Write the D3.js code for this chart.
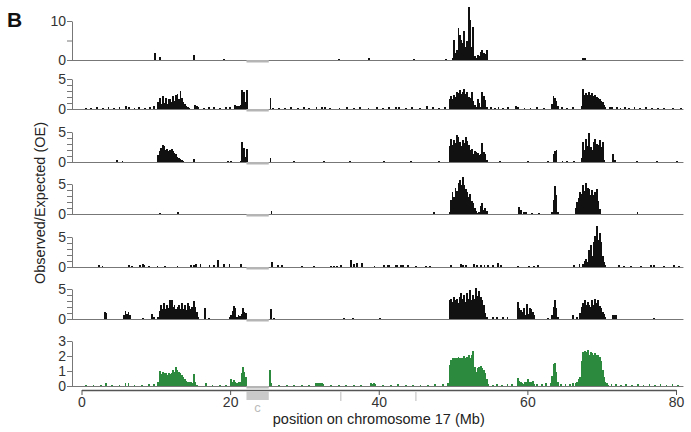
<!DOCTYPE html>
<html>
<head>
<meta charset="utf-8">
<script src="https://cdn.jsdelivr.net/npm/d3@7"></script>
<style>
  body { margin: 0; background: #fff; }
  svg text { font-family: "Liberation Sans", Arial, Helvetica, sans-serif; }
  .bar { shape-rendering: crispEdges; }
</style>
</head>
<body>
<div id="chart"></div>
<script>
// bin width of the histogram blocks (Mb)
const binMb = 0.2;
const xTicks = [0, 20, 40, 60, 80];
const gapMb = [22.2, 25.2];      // unmapped region, grey box labelled "c"
const markMb = [34.9, 45.0];     // small grey marks under the axis
const chromEnd = 81;

// each block: [start Mb, values every binMb]; spikes: [Mb, value]
const t1Blocks = [
  [49.8, [0.5,5.1,1.7,2.5,8.1,6.4,5.1,4.3,7.5,3.4,5.0,13.5,10.3,3.4,8.4,1.0,0.4,1.3,1.0,2.1,2.6,1.7,1.5,2.6]]
];
const t1Spikes = [[9.8,1.9],[10.4,0.7],[15.0,1.3],[19.1,0.3],[34.5,0.2],[38.6,0.6],[44.6,0.2],[48.9,0.3],[67.4,0.6],[67.6,0.6]];

const t2Blocks = [
  [10.2, [1.2,1.9,0.8,2.1,1.0,1.8,0.9,1.6,1.7,1.1,2.1,1.4,2.3,2.5,1.6,3.0,1.8,1.2,0.9,0.55,0.3,0.2]],
  [21.1, [0.5,0.6,3.1,2.9,1.2,3.2]],
  [49.4, [1.6,2.1,1.6,2.4,2.0,2.8,2.6,3.1,2.5,2.9,3.3,2.5,2.9,2.0,1.8,2.9,1.3,0.7,0.3,1.7,1.0,0.3,2.8,2.1,1.5,0.3]],
  [63.2, [0.8,2.1,1.9,1.3,0.5]],
  [67.2, [0.5,3.4,2.4,2.7,2.3,2.8,2.4,2.6,2.1,2.3,2.0,1.9,1.6,1.4,1.2,0.6,0.3]]
];
const t2Spikes = [[0.5,0.2],[1.2,0.2],[2.0,0.3],[2.8,0.2],[3.5,0.3],[4.2,0.2],[5.0,0.3],[5.9,0.5],[6.3,0.3],[7.0,0.2],[7.6,0.3],[8.4,0.2],[9.1,0.3],[9.6,0.5],
  [15.2,0.7],[15.4,0.55],[15.6,0.4],[16.4,0.2],[17.0,0.3],[17.7,0.3],[18.5,0.2],[19.3,0.4],[19.9,0.4],[20.5,0.65],[20.8,0.5],[25.3,1.9],[25.6,0.2],
  [26.4,0.2],[27.3,0.2],[28.1,0.3],[29.0,0.2],[29.8,0.3],[30.5,0.2],[31.5,0.4],[32.2,0.3],[32.6,0.3],[33.3,0.2],[34.6,0.2],[35.6,0.3],[36.5,0.2],
  [37.4,0.3],[38.5,0.2],[39.6,0.3],[40.5,0.2],[41.3,0.3],[42.2,0.4],[42.6,0.3],[43.5,0.2],[44.4,0.3],[45.4,0.2],[46.4,0.5],[47.2,0.3],[48.0,0.2],[48.8,0.4],
  [55.0,0.3],[55.5,0.2],[56.0,0.3],[56.6,0.2],[57.3,0.3],[58.3,0.55],[58.6,0.3],[59.5,0.2],[60.3,0.2],[61.2,0.3],[62.1,0.2],[64.5,0.3],[65.2,0.2],[66.0,0.3],
  [71.0,0.4],[71.3,0.3],[71.9,0.3],[72.4,0.2],[73.0,0.3],[73.6,0.2],[74.3,0.4],[75.0,0.2],[75.8,0.3],[76.7,0.2],[77.5,0.2],[78.3,0.2],[79.5,0.2],[80.5,0.2]];

const t3Blocks = [
  [10.2, [1.1,1.9,2.4,2.8,2.6,2.0,2.2,1.9,2.0,2.2,1.9,1.5,1.4,0.8,0.7,0.55,0.4,0.1]],
  [21.3, [0.2,3.4,2.4,0.8,2.2]],
  [49.4, [2.6,3.9,2.8,3.6,3.1,4.5,4.2,3.4,2.7,3.7,3.1,4.2,3.5,2.8,2.0,2.1,1.4,1.8,1.7,1.5,1.2,1.4,3.1,1.7,1.4,0.4]],
  [63.4, [1.4,1.9,2.0]],
  [67.2, [0.6,3.4,2.0,3.9,2.6,4.9,2.5,2.0,3.4,3.8,3.0,2.8,3.6,2.5,3.4,0.4]]
];
const t3Spikes = [[4.7,0.3],[5.4,0.2],[15.0,0.55],[19.6,0.2],[20.0,0.2],[25.3,0.7],[28.5,0.15],[32.5,0.15],[36.0,0.15],[40.6,0.2],[44.2,0.15],[48.0,0.15],
  [56.2,0.15],[60.0,0.2],[62.6,0.2],[64.6,0.2],[65.2,0.2],[66.2,0.2],[71.4,1.4],[71.7,0.3],[74.6,0.2],[77.3,0.2],[80.0,0.2]];

const t4Blocks = [
  [49.4, [0.3,2.3,3.7,2.8,4.3,3.8,5.1,5.7,4.9,6.1,4.8,4.2,3.7,2.9,3.4,2.2,1.8,1.0,0.5,0.2,0.3,1.3,1.8,0.7,1.0,0.5]],
  [58.8, [1.1,0.6]],
  [63.2, [0.3,2.3,4.6,3.2,0.3]],
  [66.4, [1.0,2.0,2.6,3.7,3.4,4.8,3.9,5.1,4.4,4.2,3.1,4.0,3.2,3.6,4.1,2.2,0.8]]
];
const t4Spikes = [[10.4,0.2],[12.9,0.3],[25.45,0.5],[47.3,0.3],[59.4,0.4],[59.7,0.3],[60.5,0.2],[61.4,0.2],[74.7,0.3]];

const t5Blocks = [
  [67.4, [0.5,1.0,1.4,0.9,2.8,3.7,1.8,4.2,5.1,6.8,4.5,5.6,4.2,1.8,0.9,0.4]]
];
const t5Spikes = [[2.2,0.4],[2.7,0.2],[6.3,0.3],[6.7,0.2],[7.8,0.4],[8.1,0.5],[8.3,0.3],[9.0,0.2],[10.1,0.2],[11.1,0.2],[12.8,0.2],[14.6,0.4],[15.0,0.3],
  [15.3,0.5],[15.9,0.5],[17.1,0.3],[17.7,0.4],[18.2,1.1],[19.1,0.5],[19.8,0.5],[21.3,0.5],[25.5,0.8],[26.3,0.3],[26.9,0.3],[29.6,0.15],[31.2,0.15],
  [33.4,0.2],[33.9,0.2],[34.3,0.25],[34.8,0.3],[36.1,1.2],[36.5,0.5],[37.0,0.6],[37.6,0.6],[39.3,0.2],[40.6,0.3],[41.1,0.4],[41.3,0.3],[42.2,0.4],
  [42.4,0.3],[42.9,0.4],[43.1,0.3],[43.8,0.4],[44.9,0.2],[46.2,0.2],[46.8,0.2],[49.6,0.3],[50.9,0.5],[51.2,0.4],[51.6,0.4],[52.7,0.5],[53.1,0.4],
  [53.6,0.4],[54.1,0.3],[54.6,0.3],[55.2,0.3],[55.9,0.6],[56.3,0.3],[58.6,0.2],[60.1,0.2],[60.8,0.2],[61.3,0.3],[66.2,0.3],[66.9,0.5],[72.2,0.3],
  [72.9,0.2],[73.8,0.2],[75.2,0.2],[76.5,0.4],[76.9,0.4],[78.3,0.2],[79.6,0.3],[80.3,0.2]];

const t6Blocks = [
  [3.0, [1.2,1.0]],
  [5.6, [0.6,1.3,0.9,1.1,0.6]],
  [9.4, [0.9,0.4]],
  [10.2, [0.3,1.4,2.3,1.6,2.6,1.7,2.4,1.8,3.2,3.1,2.0,2.4,1.7,2.0,2.3,1.7,2.7,1.7,2.3,1.5,2.6,2.1,1.6,2.0,3.0,2.0,1.2,0.3]],
  [19.8, [0.3,0.6,1.3,2.1,1.8,0.4,0.6,0.5,0.8,1.9,1.2,1.0]],
  [49.4, [3.2,3.4,2.9,3.7,3.2,3.4,2.6,3.6,4.3,3.3,4.0,2.9,4.3,3.4,4.8,3.2,4.0,3.4,5.1,3.8,4.6,3.7,3.2,2.4,1.0,0.3]],
  [58.6, [2.8,1.9,1.5,1.1,1.8,0.6,2.5,0.9,1.8,1.6,1.2,0.6]],
  [63.2, [0.6,2.0,3.2,1.8,0.4]],
  [67.0, [1.0,2.0,2.6,3.2,2.3,2.8,2.4,2.0,3.2,2.3,3.3,2.6,3.1,2.2,1.8,1.2,0.8,0.3]],
  [71.4, [0.6,0.7,0.6]]
];
const t6Spikes = [[8.2,0.2],[16.5,1.9],[17.0,0.2],[25.4,1.7],[25.8,0.2],[35.2,0.1],[36.4,0.1],[40.0,0.1],[55.2,0.3],[55.8,0.3],[56.6,0.3],[57.2,0.3],
  [62.6,0.2],[66.0,0.7],[66.6,0.3],[76.9,0.2]];

const t7Blocks = [
  [10.2, [0.3,1.0,0.8,0.95,0.85,0.9,0.75,0.85,0.8,0.9,1.05,0.95,1.3,1.1,0.95,0.85,0.75,0.6,0.45,0.35,0.3,0.25,0.3,0.2,0.8,0.3,0.1]],
  [20.0, [0.5,0.25,0.4,0.3,0.2,0.3,0.3,0.85,1.3,0.95,0.6]],
  [25.2, [1.07,0.2]],
  [31.4, [0.2,0.22,0.22,0.22,0.2,0.15]],
  [38.8, [0.18,0.15,0.18,0.12]],
  [49.2, [0.2,1.4,1.75,1.9,1.85,1.9,1.85,1.95,1.85,1.9,1.85,2.0,1.85,1.95,2.05,1.9,2.1,2.35,1.3,0.95,1.2,1.3,1.35,1.2,1.05,0.85,0.5,0.15]],
  [58.6, [0.55,0.35,0.25,0.2,0.15,0.25,0.3,0.5,0.25,0.3,0.35,0.15]],
  [63.0, [0.2,0.7,1.5,1.55,0.95,0.3]],
  [66.4, [0.2,0.3,0.45,0.6,1.7,2.3,2.35,2.25,2.4,2.1,2.25,2.2,2.1,2.2,2.1,2.05,1.95,1.7,1.1,0.6,0.3,0.2,0.1]]
];
const t7Spikes = [[0.5,0.08],[1.5,0.1],[2.5,0.08],[3.2,0.18],[4.0,0.08],[5.0,0.1],[5.8,0.2],[6.2,0.22],[7.0,0.1],[8.0,0.08],[9.0,0.12],[9.6,0.15],
  [16.6,0.2],[17.5,0.1],[18.5,0.08],[19.3,0.1],[26.5,0.1],[27.5,0.08],[28.5,0.1],[29.5,0.08],[30.5,0.1],[33.5,0.08],[34.5,0.1],[35.5,0.08],
  [36.5,0.1],[37.5,0.08],[40.5,0.1],[41.5,0.08],[42.5,0.12],[43.5,0.08],[44.5,0.1],[45.5,0.08],[46.5,0.1],[47.5,0.12],[48.5,0.15],[55.2,0.1],
  [55.8,0.12],[56.5,0.1],[57.2,0.12],[57.8,0.15],[61.2,0.12],[61.8,0.15],[62.4,0.2],[64.4,0.15],[65.0,0.12],[65.6,0.15],[66.0,0.2],[71.2,0.15],
  [71.8,0.15],[72.5,0.1],[73.2,0.12],[74.0,0.1],[74.8,0.12],[75.5,0.1],[76.3,0.12],[77.0,0.1],[77.8,0.12],[78.6,0.1],[79.4,0.12],[80.2,0.1]];

// y axis ticks per track
const ticks10 = [0, 5, 10], ticks5 = [0, 1, 2, 3, 4, 5], ticks3 = [0, 1, 2, 3];

const width = 691, height = 432;
const axisX = 72;

const svg = d3.select("#chart").append("svg")
    .attr("width", width)
    .attr("height", height);

const x = d3.scaleLinear().domain([0, 80]).range([81.5, 676]);
// a little overlap so neighbouring bins merge into solid blocks
const barW = x(binMb) - x(0) + 0.35;

// panel layout: baseline y, axis length in px
const panels = [
  {blocks: t1Blocks, spikes: t1Spikes, top: 10, base: 60,  len: 39, ticks: ticks10, labels: [0, 10], color: "#111"},
  {blocks: t2Blocks, spikes: t2Spikes, top: 5,  base: 109, len: 30, ticks: ticks5, labels: [0, 5], color: "#111"},
  {blocks: t3Blocks, spikes: t3Spikes, top: 5,  base: 162, len: 30, ticks: ticks5, labels: [0, 5], color: "#111"},
  {blocks: t4Blocks, spikes: t4Spikes, top: 5,  base: 214, len: 30, ticks: ticks5, labels: [0, 5], color: "#111"},
  {blocks: t5Blocks, spikes: t5Spikes, top: 5,  base: 267, len: 30, ticks: ticks5, labels: [0, 5], color: "#111"},
  {blocks: t6Blocks, spikes: t6Spikes, top: 5,  base: 319, len: 30, ticks: ticks5, labels: [0, 5], color: "#111"},
  {blocks: t7Blocks, spikes: t7Spikes, top: 3,  base: 386, len: 45, ticks: ticks3, labels: ticks3, color: "#2b8a3e"}
];

panels.forEach(function(p) {
  let y = d3.scaleLinear().domain([0, p.top]).range([p.base, p.base - p.len]);
  let g = svg.append("g");

  let pts = [];
  p.blocks.forEach(function(b) {
    b[1].forEach(function(v, j) { pts.push([b[0] + j * binMb, v]); });
  });
  p.spikes.forEach(function(d) { pts.push(d); });

  // baseline
  g.append("line")
      .attr("x1", axisX).attr("x2", x(chromEnd))
      .attr("y1", p.base + 0.5).attr("y2", p.base + 0.5)
      .attr("stroke", "#777")
      .attr("stroke-width", 1.2);

  g.selectAll(".bar")
      .data(pts)
      .enter().append("rect")
      .attr("class", "bar")
      .attr("x", function(d) { return x(d[0]); })
      .attr("width", barW)
      .attr("y", function(d) { return y(d[1]); })
      .attr("height", function(d) { return p.base - y(d[1]); })
      .attr("fill", p.color);

  // unmapped gap
  g.append("rect")
      .attr("x", x(gapMb[0]))
      .attr("width", x(gapMb[1]) - x(gapMb[0]))
      .attr("y", p.base)
      .attr("height", 2.5)
      .attr("fill", "#b5b5b5");

  let yAxis = d3.axisLeft(y)
      .tickValues(p.ticks)
      .tickFormat(function(d) { return p.labels.indexOf(d) >= 0 ? d : ""; })
      .tickSize(5)
      .tickPadding(1)
      .tickSizeOuter(0);

  let ga = g.append("g")
      .attr("transform", "translate(" + axisX + ",0)")
      .call(yAxis);
  ga.select(".domain").attr("stroke", "#777");
  ga.selectAll(".tick line").attr("stroke", "#777");
  ga.selectAll(".tick text").attr("fill", "#333").style("font-size", "14px");
});

// bottom axis
const xAxis = d3.axisBottom(x)
    .tickValues(xTicks)
    .tickSize(5)
    .tickPadding(2)
    .tickSizeOuter(0);

const gx = svg.append("g")
    .attr("transform", "translate(0,390)")
    .call(xAxis);
gx.select(".domain").attr("stroke", "#555").attr("stroke-width", 1.3);
gx.selectAll(".tick line").attr("stroke", "#555");
gx.selectAll(".tick text").attr("fill", "#333").style("font-size", "14px");

// grey box for region c, and the two marks
svg.append("rect")
    .attr("x", x(gapMb[0]))
    .attr("width", x(gapMb[1]) - x(gapMb[0]))
    .attr("y", 391)
    .attr("height", 9)
    .attr("fill", "#c9c9c9");

svg.append("text")
    .attr("x", (x(gapMb[0]) + x(gapMb[1])) / 2)
    .attr("y", 412)
    .attr("text-anchor", "middle")
    .attr("fill", "#bbb")
    .style("font-size", "13px")
    .text("c");

svg.selectAll(".mark")
    .data(markMb)
    .enter().append("line")
    .attr("class", "mark")
    .attr("x1", function(d) { return x(d); })
    .attr("x2", function(d) { return x(d); })
    .attr("y1", 392).attr("y2", 401)
    .attr("stroke", "#bbb");

svg.append("text")
    .attr("x", x(40))
    .attr("y", 424)
    .attr("text-anchor", "middle")
    .attr("fill", "#222")
    .style("font-size", "14.5px")
    .text("position on chromosome 17 (Mb)");

svg.append("text")
    .attr("transform", "translate(45,203) rotate(-90)")
    .attr("text-anchor", "middle")
    .attr("fill", "#222")
    .style("font-size", "14.5px")
    .text("Observed/Expected (OE)");

svg.append("text")
    .attr("x", 7)
    .attr("y", 27)
    .attr("fill", "#111")
    .style("font-size", "21px")
    .style("font-weight", "bold")
    .text("B");
</script>
</body>
</html>
